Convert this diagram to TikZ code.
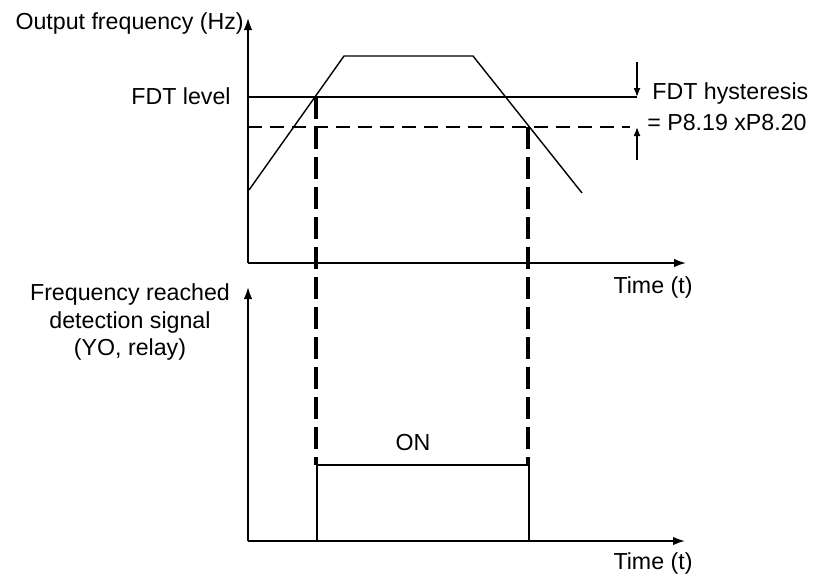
\documentclass[tikz,border=0pt]{standalone}
\usepackage{fontspec}
\setmainfont{Liberation Sans}
\usetikzlibrary{arrows.meta,positioning}

\begin{document}
\begin{tikzpicture}[
  x=0.02cm, y=-0.02cm,
  >={Latex[length=2.4mm,width=1.7mm]},
  lbl/.style={font=\fontsize{13.2}{15.4}\selectfont, inner sep=0pt, align=center},
  axisline/.style={->, line width=1pt, draw=black},
  freqline/.style={line width=0.8pt, draw=black},
  levelline/.style={line width=1pt, draw=black},
  lowline/.style={line width=1pt, draw=black, dash pattern=on 0.28cm off 0.16cm},
  trigline/.style={line width=1.8pt, draw=black, dash pattern=on 0.44cm off 0.16cm},
  pulseline/.style={line width=1pt, draw=black},
  hystarr/.style={-{Latex[length=1.8mm,width=1.4mm]}, line width=0.8pt, draw=black}
]
  \useasboundingbox (0,0) rectangle (813,575);

  % upper chart: output frequency
  \coordinate (o1) at (248,263);
  \coordinate (y1) at (248,18);
  \coordinate (x1) at (686,263);
  \coordinate (f0) at (249,190);
  \coordinate (f1) at (344,56);
  \coordinate (f2) at (473,56);
  \coordinate (f3) at (582,193);
  \coordinate (lv0) at (248,97);
  \coordinate (lv1) at (637,97);
  \coordinate (lw0) at (248,127);
  \coordinate (lw1) at (630,127);
  \coordinate (hA) at (637,62);
  \coordinate (hB) at (637,160);
  \coordinate (lw2) at (637,127);
  \coordinate (cross1) at (316,97);
  \coordinate (cross2) at (528,127);

  % lower chart: detection signal
  \coordinate (o2) at (248,541);
  \coordinate (y2) at (248,287);
  \coordinate (x2) at (685,541);
  \coordinate (p0) at (317,541);
  \coordinate (p1) at (317,465);
  \coordinate (p2) at (529,465);
  \coordinate (p3) at (529,541);

  \node[lbl, anchor=east] (outfreq) at (244,24) {Output frequency (Hz)};
  \node[lbl, anchor=east] (fdtlevel) at (231,96) {FDT level};
  \node[lbl, anchor=west] (hyst1) at (652,93) {FDT hysteresis};
  \node[lbl, anchor=west] (hyst2) at (647,123) {= P8.19 xP8.20};
  \node[lbl] (time1) at (653,287) {Time (t)};
  \node[lbl] (detsig) at (130,322)
    {Frequency reached\\detection signal\\(YO, relay)};
  \node[lbl] (on) at (413,443) {ON};
  \node[lbl] (time2) at (653,563) {Time (t)};

  \draw[axisline] (o1) -- (y1);
  \draw[axisline] (o1) -- (x1);
  \draw[freqline] (f0) -- (f1) -- (f2) -- (f3);
  \draw[levelline] (lv0) -- (lv1);
  \draw[lowline] (lw0) -- (lw1);
  \draw[hystarr] (hA) -- (lv1);
  \draw[hystarr] (hB) -- (lw2);

  \draw[axisline] (o2) -- (y2);
  \draw[axisline] (o2) -- (x2);
  \draw[pulseline] (p0) -- (p1) -- (p2) -- (p3);
  \draw[trigline] (cross1) -- (cross1 |- p1);
  \draw[trigline] (cross2) -- (cross2 |- p2);
\end{tikzpicture}
\end{document}
